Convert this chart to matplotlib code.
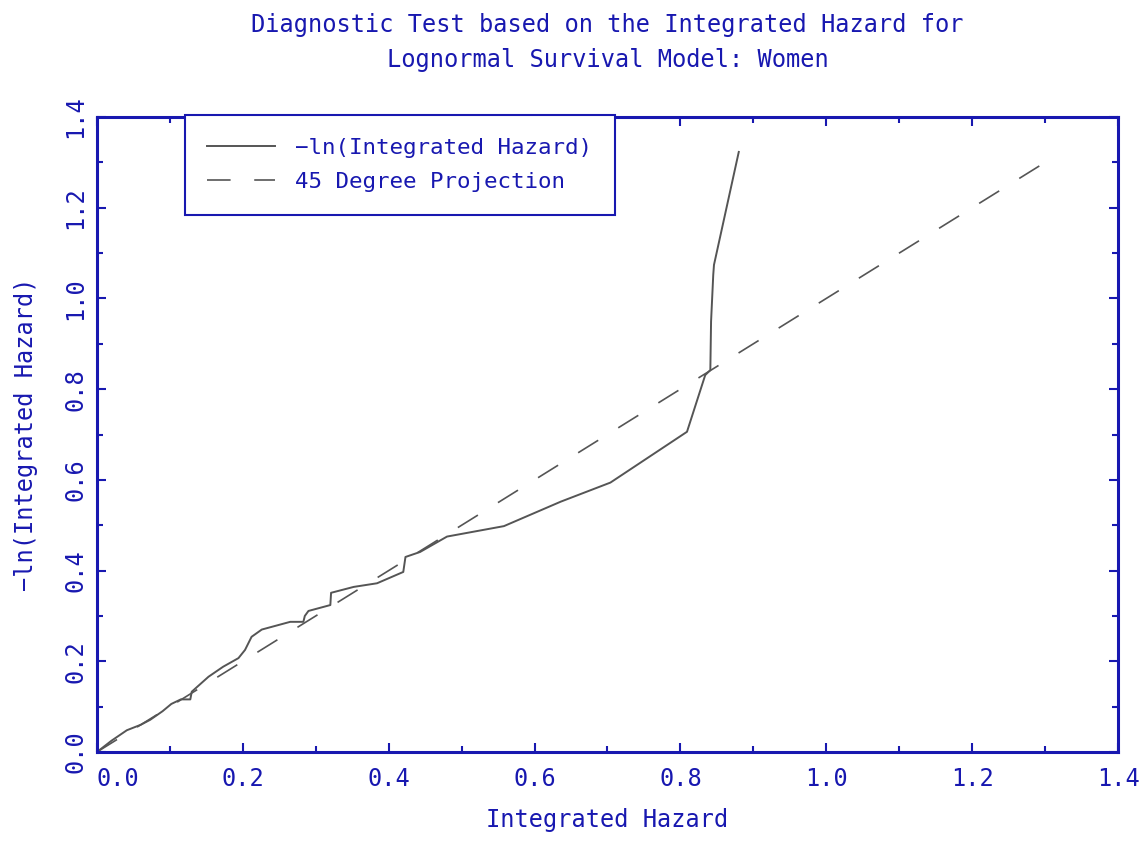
import numpy as np
import matplotlib.pyplot as plt
from matplotlib.ticker import MultipleLocator

plt.rcParams['font.family'] = ['DejaVu Sans Mono']
plt.rcParams['lines.scale_dashes'] = False

blue = '#1818b0'
grey = '#555555'

# -ln(Integrated Hazard) curve
hazard = [0.0, 0.02, 0.041, 0.06, 0.073, 0.09, 0.102, 0.115, 0.128, 0.13,
          0.153, 0.173, 0.194, 0.203, 0.212, 0.226, 0.265, 0.283, 0.285, 0.29,
          0.32, 0.321, 0.352, 0.384, 0.42, 0.423, 0.443, 0.48, 0.558, 0.636,
          0.704, 0.809, 0.834, 0.841, 0.842, 0.845, 0.846, 0.88]
neg_log_hazard = [0.0, 0.025, 0.048, 0.06, 0.071, 0.09, 0.106, 0.116, 0.116, 0.133,
                  0.166, 0.188, 0.207, 0.225, 0.254, 0.27, 0.287, 0.287, 0.30, 0.311,
                  0.324, 0.351, 0.364, 0.372, 0.397, 0.43, 0.441, 0.475, 0.498, 0.552,
                  0.594, 0.706, 0.831, 0.842, 0.949, 1.052, 1.074, 1.323]

# 45 degree reference line
diag = [0.0, 1.31]

fig = plt.figure(figsize=(11.46, 8.46), dpi=100)
ax = fig.add_axes([0.0846, 0.1111, 0.891, 0.7506])

ax.plot(hazard, neg_log_hazard, color=grey, lw=1.4, label='\u2212ln(Integrated Hazard)')
ax.plot(diag, diag, color=grey, lw=1.2, dashes=(17, 17), label='45 Degree Projection')

ax.set_xlim(0, 1.4)
ax.set_ylim(0, 1.4)
ax.xaxis.set_major_locator(MultipleLocator(0.2))
ax.xaxis.set_minor_locator(MultipleLocator(0.1))
ax.yaxis.set_major_locator(MultipleLocator(0.2))
ax.yaxis.set_minor_locator(MultipleLocator(0.1))
ax.xaxis.set_major_formatter(lambda v, p: f'{v:.1f}')
ax.yaxis.set_major_formatter(lambda v, p: f'{v:.1f}')

for s in ax.spines.values():
    s.set_color(blue)
    s.set_linewidth(2.2)

ax.tick_params(which='both', direction='in', top=True, right=True, color=blue,
               labelcolor=blue, width=1.5, labelsize=17)
ax.tick_params(which='major', length=6.5)
ax.tick_params(which='minor', length=4)
ax.tick_params(axis='x', pad=11)
ax.tick_params(axis='y', pad=7)

ax.set_xlabel('Integrated Hazard', color=blue, fontsize=17, labelpad=12)
ax.set_ylabel('\u2212ln(Integrated Hazard)', color=blue, fontsize=17, labelpad=18)
ax.set_title('Diagnostic Test based on the Integrated Hazard for\nLognormal Survival Model: Women',
             color=blue, fontsize=17, pad=36, linespacing=1.6)

leg = ax.legend(loc='upper left', bbox_to_anchor=(0.086, 1.003), borderaxespad=0,
                fontsize=16.2, handlelength=3.0, handletextpad=0.9, labelspacing=0.65,
                borderpad=1.0, fancybox=False, framealpha=1)
leg.get_frame().set_edgecolor(blue)
leg.get_frame().set_linewidth(1.5)
for t in leg.get_texts():
    t.set_color(blue)

fig.canvas.draw()
for lab in ax.get_yticklabels():
    lab.set_rotation(90)
    lab.set_va('center')
for tick in ax.xaxis.get_major_ticks():
    if tick.label1.get_text() == '0.0':
        tick.label1.set_ha('left')

fig.savefig('out.png', dpi=100)
